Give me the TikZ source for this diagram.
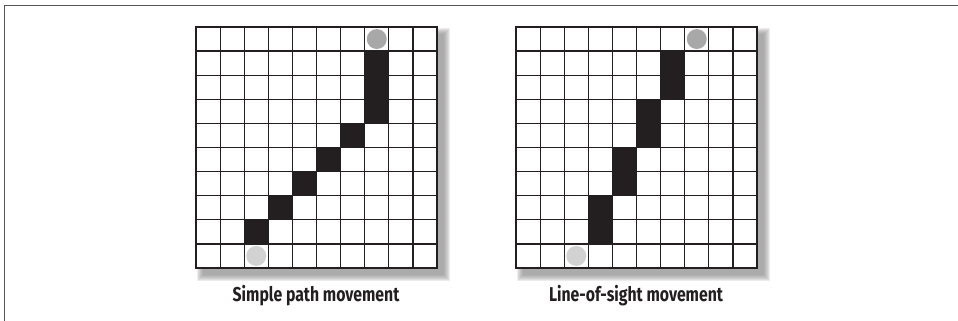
\documentclass[tikz,border=0pt]{standalone}
\usepackage{fontspec}
\setmainfont{Fira Sans}
\definecolor{ink}{HTML}{231F20}
\definecolor{framegray}{HTML}{555555}
\definecolor{startgray}{HTML}{D2D2D2}
\definecolor{goalgray}{HTML}{A8A8A8}
\definecolor{shadowgray}{HTML}{8C8C8C}
\tikzset{
  gridline/.style={draw=ink, line width=1.2pt},
  gridframe/.style={draw=ink, line width=1.8pt},
  pathcell/.style={fill=ink},
  caption/.style={font=\bfseries\fontsize{20}{24}\selectfont, text=ink, inner sep=0pt, anchor=base},
}
% \gridboard{x0}{y0}{list of black cells col/row}{start col}{goal col}
\newcommand{\gridboard}[5]{%
  \def\cs{24.1}%
  % blurred drop shadow
  \foreach \k in {6,5,...,0}{
    \fill[shadowgray, opacity=0.16]
      ({#1+7-\k},{#2+7-\k}) rectangle ({#1+10*\cs+7+\k},{#2+10*\cs+7+\k});
  }
  \fill[white] (#1,#2) rectangle ({#1+10*\cs},{#2+10*\cs});
  \foreach \c/\r in {#3}{
    \fill[pathcell] ({#1+\c*\cs},{#2+\r*\cs}) rectangle ({#1+(\c+1)*\cs},{#2+(\r+1)*\cs});
  }
  \fill[goalgray] ({#1+(#5+0.5)*\cs},{#2+0.5*\cs}) circle (10);
  \fill[startgray] ({#1+(#4+0.5)*\cs},{#2+9.5*\cs}) circle (10);
  \foreach \i in {1,...,9}{
    \draw[gridline] ({#1+\i*\cs},#2) -- ({#1+\i*\cs},{#2+10*\cs});
    \draw[gridline] (#1,{#2+\i*\cs}) -- ({#1+10*\cs},{#2+\i*\cs});
  }
  \draw[gridframe] (#1,#2) rectangle ({#1+10*\cs},{#2+10*\cs});
}
\begin{document}
\begin{tikzpicture}[x=1pt, y=-1pt]
  \useasboundingbox (0,0) rectangle (958,321);
  \fill[white] (0,0) rectangle (958,321);
  % outer frame (top and left edges)
  \draw[framegray, line width=1.6pt] (4.5,321) -- (4.5,5.5) -- (958,5.5);
  % left board: simple path movement
  \gridboard{196}{27}{7/1,7/2,7/3,6/4,5/5,4/6,3/7,2/8}{2}{7}
  % right board: line-of-sight movement
  \gridboard{516}{27}{6/1,6/2,5/3,5/4,4/5,4/6,3/7,3/8}{2}{7}
  \node[caption, xscale=0.79] (capA) at (316,301) {Simple path movement};
  \node[caption, xscale=0.79] (capB) at (636,301) {Line-of-sight movement};
\end{tikzpicture}
\end{document}
